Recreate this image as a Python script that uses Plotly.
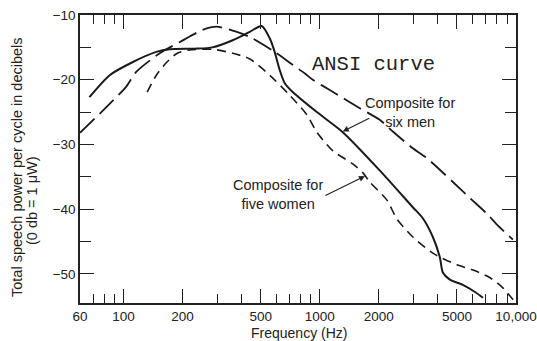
import plotly.graph_objects as go
import numpy as np

# Composite for six men (solid)
men_f = [67, 85, 111, 147, 172, 230, 284, 360, 440, 506, 556, 589, 625, 662, 728, 966, 1310, 2020, 2980, 3350, 3770, 4090, 4240, 4600, 5360, 6180, 6790]
men_db = [-22.7, -19.3, -17.3, -15.7, -15.3, -15.2, -15.0, -13.9, -12.6, -11.7, -13.6, -15.7, -18.5, -20.5, -21.9, -25.0, -28.1, -34.0, -39.7, -41.4, -44.3, -47.4, -49.8, -50.9, -51.7, -52.8, -53.7]

# ANSI curve (long dash)
ansi_f = [60, 82, 103, 116, 153, 193, 253, 298, 368, 440, 589, 728, 837, 921, 1125, 1600, 2020, 2356, 2980, 3510, 5830, 7110, 8000, 9640]
ansi_db = [-28.2, -24.2, -21.1, -18.8, -15.9, -14.2, -12.3, -11.8, -12.5, -13.4, -15.7, -17.7, -19.0, -20.0, -21.6, -24.4, -26.2, -28.0, -30.6, -32.1, -38.3, -40.7, -42.4, -44.7]

# Composite for five women (dashed)
women_f = [132, 147, 166, 188, 217, 284, 360, 440, 556, 703, 859, 966, 1166, 1473, 1660, 1800, 2200, 2470, 2980, 3770, 5000, 6040, 7380, 8600, 9660]
women_db = [-21.9, -19.3, -17.3, -15.9, -15.4, -15.3, -15.9, -16.8, -19.3, -22.4, -25.4, -28.1, -31.0, -33.0, -34.4, -35.8, -38.6, -41.5, -44.3, -46.8, -48.6, -49.4, -50.6, -52.2, -54.0]

x_ticks = [60, 100, 200, 500, 1000, 2000, 5000, 10000]
x_labels = ["60", "100", "200", "500", "1000", "2000", "5000", "10,000"]
x_minor = [70, 80, 90, 300, 400, 600, 700, 800, 900, 3000, 4000, 6000, 7000, 8000, 9000]
y_ticks = [-10, -20, -30, -40, -50]
y_labels = ["\u221210", "\u221220", "\u221230", "\u221240", "\u221250"]
y_minor = [-15, -25, -35, -45]

ink = "#1a1a1a"
fig = go.Figure()
fig.add_trace(go.Scatter(x=ansi_f, y=ansi_db, mode="lines", line=dict(color=ink, width=1.8, dash="20px,7px", shape="spline", smoothing=0.7), name="ANSI"))
fig.add_trace(go.Scatter(x=women_f, y=women_db, mode="lines", line=dict(color=ink, width=1.6, dash="9px,6px", shape="spline", smoothing=0.7), name="women"))
fig.add_trace(go.Scatter(x=men_f, y=men_db, mode="lines", line=dict(color=ink, width=2, shape="spline", smoothing=0.7), name="men"))

font = "Liberation Sans, Arial, sans-serif"
fig.update_layout(
    width=537, height=341,
    margin=dict(l=80, r=21, t=15, b=38),
    paper_bgcolor="white", plot_bgcolor="white",
    showlegend=False,
    font=dict(family=font, size=13.5, color="#222"),
    xaxis=dict(type="log", range=[np.log10(60), 4], tickvals=x_ticks, ticktext=x_labels,
               ticks="inside", ticklen=14, tickwidth=1.2, tickcolor="#222",
               minor=dict(tickvals=x_minor, ticks="inside", ticklen=9, tickwidth=1, tickcolor="#222"),
               showline=True, linecolor="#222", linewidth=1.5, mirror="allticks",
               showgrid=False, zeroline=False, tickfont=dict(size=13.5), automargin=False),
    yaxis=dict(range=[-54.5, -10], tickvals=y_ticks, ticktext=y_labels,
               ticks="inside", ticklen=14, tickwidth=1.2, tickcolor="#222",
               minor=dict(tickvals=y_minor, ticks="inside", ticklen=11, tickwidth=1, tickcolor="#222"),
               showline=True, linecolor="#222", linewidth=1.5, mirror="allticks",
               showgrid=False, zeroline=False, tickfont=dict(size=13.5), automargin=False),
)

# x-axis title
fig.add_annotation(xref="paper", yref="paper", x=(299 - 80) / 436, y=0, yshift=-(333 - 303),
                   xanchor="center", yanchor="middle", text="Frequency (Hz)", showarrow=False,
                   font=dict(size=14, color="#222"))
# y-axis title (two lines)
fig.add_annotation(xref="paper", yref="paper", x=0, y=(303 - 167) / 288, xshift=17 - 80,
                   xanchor="center", yanchor="middle",
                   text="Total speech power per cycle in decibels", textangle=-90, showarrow=False,
                   font=dict(size=14.5, color="#222"))
fig.add_annotation(xref="paper", yref="paper", x=0, y=(303 - 201) / 288, xshift=32 - 80,
                   xanchor="center", yanchor="middle",
                   text="(0 db = 1 \u03bcW)", textangle=-90, showarrow=False,
                   font=dict(size=14.5, color="#222"))

fig.add_annotation(x=np.log10(1884), y=-17.7, text="ANSI curve", showarrow=False,
                   font=dict(family="Liberation Mono, DejaVu Sans Mono, monospace", size=20.5, color="#222"))
fig.add_annotation(x=np.log10(2880), y=-25.1, text="Composite for<br>six men", showarrow=False,
                   font=dict(size=14.5, color="#222"))
fig.add_annotation(x=np.log10(1310), y=-28.0, text="", showarrow=True, ax=28, ay=-14,
                   arrowhead=2, arrowsize=1, arrowwidth=1.2, arrowcolor="#222")
fig.add_annotation(x=np.log10(611), y=-37.8, text="Composite for<br>five women", showarrow=False,
                   font=dict(size=14.5, color="#222"))
fig.add_annotation(x=np.log10(1700), y=-34.9, text="", showarrow=True, ax=-41, ay=20,
                   arrowhead=2, arrowsize=1, arrowwidth=1.2, arrowcolor="#222")

fig.write_html("out.html", config={"displayModeBar": False},
               post_script="document.body.style.margin='0px';document.body.style.overflow='hidden';")
